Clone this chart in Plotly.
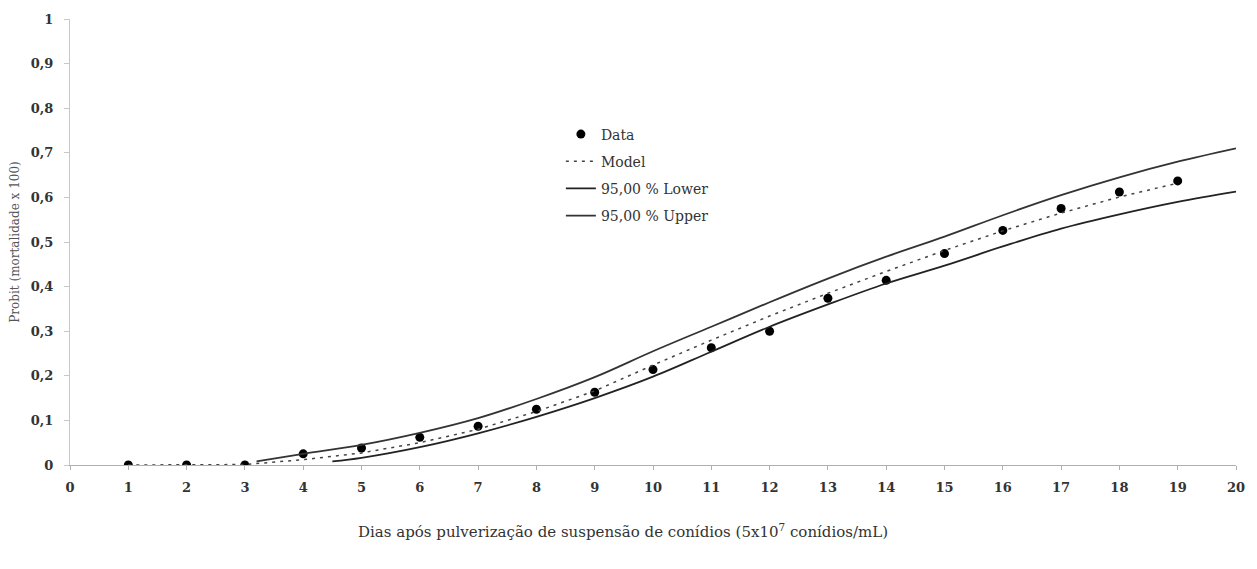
import plotly.graph_objects as go

# Observed data
days = [1, 2, 3, 4, 5, 6, 7, 8, 9, 10, 11, 12, 13, 14, 15, 16, 17, 18, 19]
probit = [0, 0, 0, 0.025, 0.038, 0.062, 0.087, 0.125, 0.163, 0.214, 0.263,
          0.30, 0.374, 0.414, 0.474, 0.526, 0.575, 0.612, 0.637]

# Model curve
model_x = [1, 2, 3, 4, 5, 6, 7, 8, 9, 10, 11, 12, 13, 14, 15, 16, 17, 18, 19]
model_y = [0, 0, 0.001, 0.012, 0.027, 0.05, 0.08, 0.12, 0.166, 0.224, 0.28,
           0.334, 0.385, 0.434, 0.481, 0.525, 0.565, 0.601, 0.632]

# 95% confidence bands
lower_x = [4.5, 5, 6, 7, 8, 9, 10, 11, 12, 13, 14, 15, 16, 17, 18, 19, 20]
lower_y = [0.008, 0.016, 0.04, 0.071, 0.108, 0.15, 0.198, 0.254, 0.31, 0.36,
           0.407, 0.447, 0.49, 0.53, 0.562, 0.59, 0.613]
upper_x = [3.2, 4, 5, 6, 7, 8, 9, 10, 11, 12, 13, 14, 15, 16, 17, 18, 19, 20]
upper_y = [0.008, 0.025, 0.045, 0.072, 0.105, 0.148, 0.197, 0.255, 0.31, 0.365,
           0.418, 0.467, 0.512, 0.56, 0.605, 0.645, 0.68, 0.71]

x_ticks = list(range(0, 21))
y_ticks = [0, 0.1, 0.2, 0.3, 0.4, 0.5, 0.6, 0.7, 0.8, 0.9, 1]
y_ticklabels = ["0", "0,1", "0,2", "0,3", "0,4", "0,5", "0,6", "0,7", "0,8", "0,9", "1"]

SERIF = "DejaVu Serif"

fig = go.Figure()
fig.add_trace(go.Scatter(x=days, y=probit, mode="markers", name="Data",
                         legendgroup="a",
                         marker=dict(color="black", size=9)))
fig.add_trace(go.Scatter(x=model_x, y=model_y, mode="lines", name="Model",
                         legendgroup="b",
                         line=dict(color="#444", width=1.5, dash="3px,5px")))
fig.add_trace(go.Scatter(x=lower_x, y=lower_y, mode="lines", name="95,00 % Lower",
                         legendgroup="c", line_shape="spline",
                         line=dict(color="#222", width=1.8)))
fig.add_trace(go.Scatter(x=upper_x, y=upper_y, mode="lines", name="95,00 % Upper",
                         legendgroup="d", line_shape="spline",
                         line=dict(color="#333", width=1.8)))

fig.update_layout(
    width=1257, height=569,
    margin=dict(l=70, r=19, t=16, b=104),
    plot_bgcolor="white", paper_bgcolor="white",
    font=dict(family=SERIF, size=13, color="#333"),
    showlegend=True,
    legend=dict(x=0.421, y=0.777, xanchor="left", yanchor="top",
                bgcolor="rgba(0,0,0,0)", tracegroupgap=6,
                font=dict(family=SERIF, size=14, color="#333")),
    xaxis=dict(range=[0, 20], tickvals=x_ticks, showgrid=False, zeroline=False,
               showline=True, linecolor="#b0b0b0", linewidth=1,
               ticks="outside", ticklen=4, tickcolor="#b0b0b0",
               tickfont=dict(family=SERIF, size=13, color="#333", weight="bold"),
               ticklabelstandoff=6),
    yaxis=dict(range=[0, 1], tickvals=y_ticks, ticktext=y_ticklabels,
               showgrid=False, zeroline=False,
               showline=True, linecolor="#c8c8c8", linewidth=1,
               ticks="outside", ticklen=5, tickcolor="#c8c8c8",
               tickfont=dict(family=SERIF, size=13, color="#333", weight="bold"),
               ticklabelstandoff=8,
               title=dict(text="Probit (mortalidade x 100)",
                          font=dict(family=SERIF, size=12, color="#555"),
                          standoff=8)),
)

fig.add_annotation(
    xref="paper", yref="paper", x=0.474, y=-0.122, xanchor="center", yanchor="top",
    text="Dias após pulverização de suspensão de conídios (5x10<sup>7</sup> conídios/mL)",
    showarrow=False, font=dict(family=SERIF, size=15, color="#333"))

fig.write_html("out.html")
